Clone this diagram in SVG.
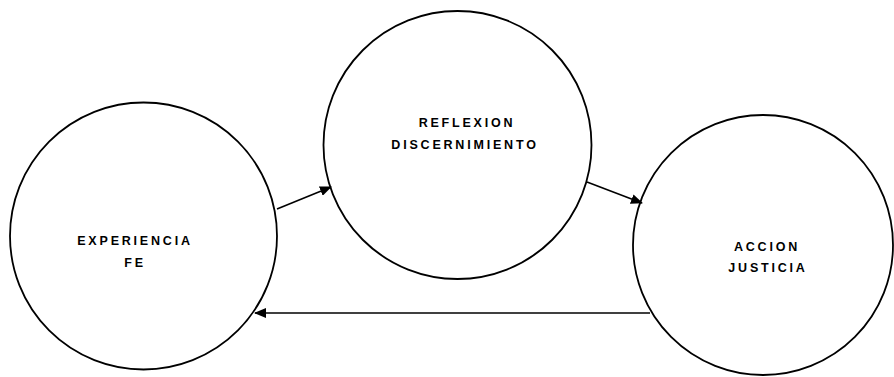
<svg xmlns="http://www.w3.org/2000/svg" width="894" height="377" viewBox="0 0 894 377">
<defs>
<style>
.node{fill:#fff;stroke:#000;stroke-width:1.8}
.lbl{font-family:"Liberation Sans",Arial,sans-serif;font-size:12.5px;font-weight:bold;letter-spacing:2.8px;fill:#000;text-anchor:middle}
.edge{stroke:#000;stroke-width:1.6;fill:none;marker-end:url(#ah)}
</style>
<marker id="ah" markerWidth="12" markerHeight="10" refX="11" refY="5" orient="auto" markerUnits="userSpaceOnUse">
<path d="M0,0 L12,5 L0,10 Z" fill="#000"/>
</marker>
</defs>
<rect width="894" height="377" fill="#fff"/>
<g id="experiencia">
<circle class="node" cx="143.5" cy="236" r="133.5"/>
<text class="lbl" x="135" y="245">EXPERIENCIA</text>
<text class="lbl" x="135" y="267">FE</text>
</g>
<g id="reflexion">
<circle class="node" cx="457.5" cy="145" r="134"/>
<text class="lbl" x="467" y="127">REFLEXION</text>
<text class="lbl" x="465" y="149">DISCERNIMIENTO</text>
</g>
<g id="accion">
<circle class="node" cx="763" cy="245" r="130"/>
<text class="lbl" x="767" y="251">ACCION</text>
<text class="lbl" x="768" y="272">JUSTICIA</text>
</g>
<g id="connectors">
<path class="edge" d="M277,209 L331,187"/>
<path class="edge" d="M587,182 L642,203"/>
<path class="edge" d="M650,313 L255,313"/>
</g>
</svg>
